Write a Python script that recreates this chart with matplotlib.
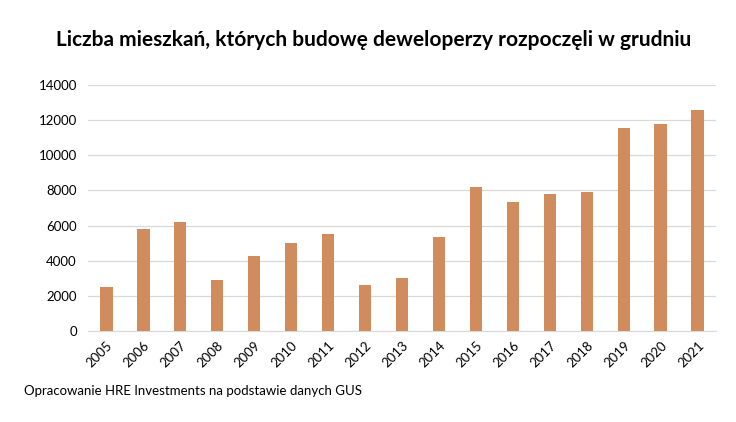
import matplotlib.pyplot as plt

years = ['2005', '2006', '2007', '2008', '2009', '2010', '2011', '2012', '2013',
         '2014', '2015', '2016', '2017', '2018', '2019', '2020', '2021']
values = [2520, 5820, 6210, 2920, 4280, 5020, 5530, 2630, 3030,
          5360, 8200, 7350, 7810, 7920, 11560, 11790, 12580]
yticks = [0, 2000, 4000, 6000, 8000, 10000, 12000, 14000]

plt.rcParams['font.family'] = ['Lato', 'DejaVu Sans']

fig = plt.figure(figsize=(7.36, 4.22), dpi=100)
ax = fig.add_axes([88 / 736, 1 - 331 / 422, (716 - 88) / 736, (331 - 85) / 422])

x = list(range(len(years)))
ax.bar(x, values, width=0.33, color='#D08C5D', zorder=3)

ax.set_xlim(-0.5, len(years) - 0.5)
ax.set_ylim(0, 14000)
ax.set_yticks(yticks)
ax.set_yticklabels([str(t) for t in yticks], fontsize=9.5)
ax.set_xticks(x)
ax.set_xticklabels(years, rotation=45, ha='right', rotation_mode='anchor', fontsize=9.5)
ax.tick_params(length=0, pad=8)
ax.tick_params(axis='x', pad=6)

ax.grid(axis='y', color='#D9D9D9', linewidth=0.9, zorder=0)
for s in ['top', 'right', 'left']:
    ax.spines[s].set_visible(False)
ax.spines['bottom'].set_color('#D9D9D9')

fig.text(374 / 736, 1 - 40 / 422, 'Liczba mieszkań, których budowę deweloperzy rozpoczęli w grudniu',
         ha='center', va='center', fontsize=15, fontweight='bold')
fig.text(24 / 736, 1 - 391 / 422, 'Opracowanie HRE Investments na podstawie danych GUS',
         ha='left', va='center', fontsize=9.5)

fig.savefig('out.png', dpi=100)
